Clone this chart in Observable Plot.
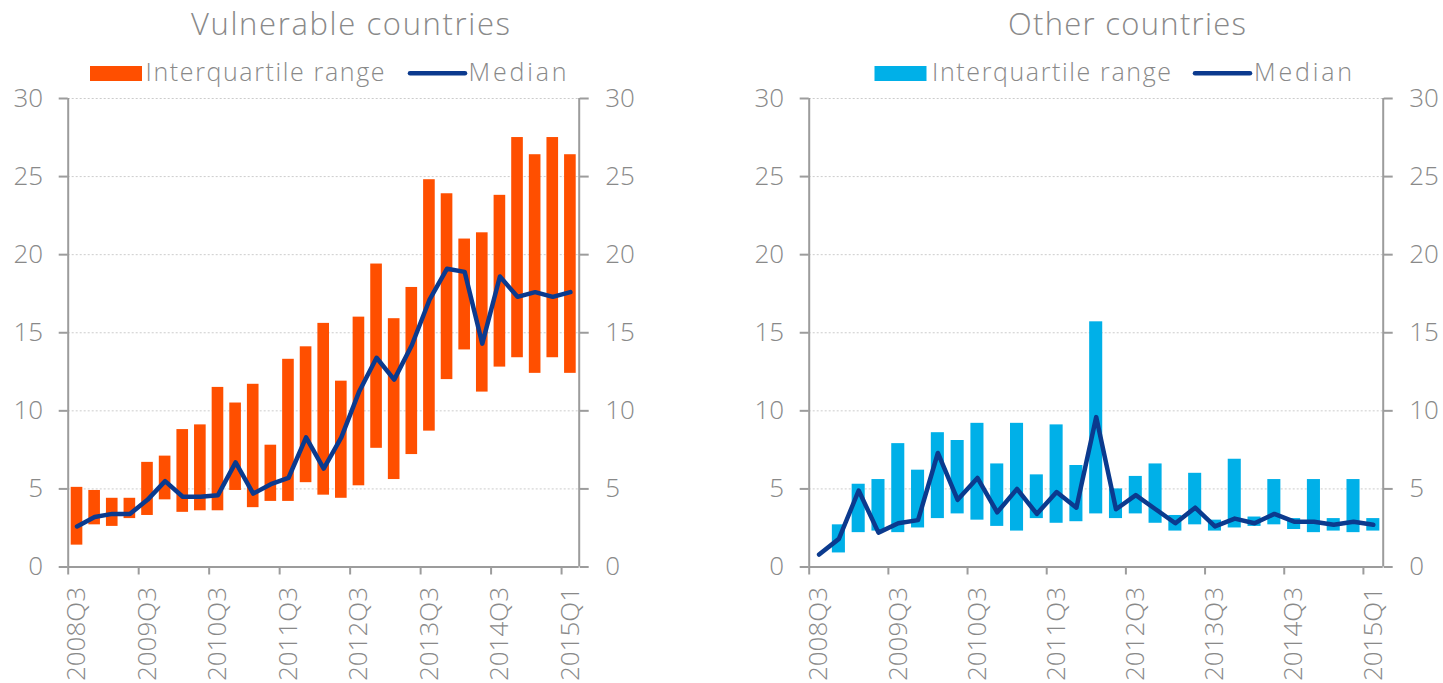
<!DOCTYPE html>
<html>
<head>
<meta charset="utf-8">
<script src="https://cdn.jsdelivr.net/npm/d3@7"></script>
<script src="https://cdn.jsdelivr.net/npm/@observablehq/plot@0.6"></script>
<style>
  html, body { margin: 0; padding: 0; background: #fff; }
  #wrap { position: relative; width: 1443px; height: 683px; overflow: hidden; }
  #wrap svg { position: absolute; }
  svg text { font-weight: 300; }
</style>
</head>
<body>
<div id="wrap"></div>
<script>
// ---- Data ----
const tickIdx = [0, 4, 8, 12, 16, 20, 24, 28];
const tickLabels = ["2008Q3", "2009Q3", "2010Q3", "2011Q3", "2012Q3", "2013Q3", "2014Q3", "2015Q1"];
const yTicks = [0, 5, 10, 15, 20, 25, 30];
const nCats = 29;

const vulnQ1 = [1.4, 2.7, 2.6, 3.1, 3.3, 4.3, 3.5, 3.6, 3.6, 4.9, 3.8, 4.2, 4.2, 5.4, 4.6, 4.4, 5.2, 7.6, 5.6, 7.2, 8.7, 12.0, 13.9, 11.2, 12.8, 13.4, 12.4, 13.4, 12.4];
const vulnQ3 = [5.1, 4.9, 4.4, 4.4, 6.7, 7.1, 8.8, 9.1, 11.5, 10.5, 11.7, 7.8, 13.3, 14.1, 15.6, 11.9, 16.0, 19.4, 15.9, 17.9, 24.8, 23.9, 21.0, 21.4, 23.8, 27.5, 26.4, 27.5, 26.4];
const vulnMed = [2.6, 3.2, 3.4, 3.4, 4.3, 5.5, 4.5, 4.5, 4.6, 6.7, 4.7, 5.3, 5.7, 8.3, 6.3, 8.3, 11.2, 13.4, 12.0, 14.2, 17.1, 19.1, 18.9, 14.3, 18.6, 17.3, 17.6, 17.3, 17.6];

const otherQ1 = [null, 0.9, 2.2, 2.3, 2.2, 2.5, 3.1, 3.4, 3.0, 2.6, 2.3, 3.1, 2.8, 2.9, 3.4, 3.1, 3.4, 2.8, 2.3, 2.7, 2.3, 2.5, 2.6, 2.7, 2.4, 2.2, 2.3, 2.2, 2.3];
const otherQ3 = [null, 2.7, 5.3, 5.6, 7.9, 6.2, 8.6, 8.1, 9.2, 6.6, 9.2, 5.9, 9.1, 6.5, 15.7, 5.0, 5.8, 6.6, 3.3, 6.0, 3.0, 6.9, 3.2, 5.6, 3.1, 5.6, 3.1, 5.6, 3.1];
const otherMed = [0.8, 1.8, 4.9, 2.2, 2.8, 3.0, 7.3, 4.3, 5.7, 3.5, 5.0, 3.4, 4.8, 3.8, 9.6, 3.7, 4.6, 3.7, 2.8, 3.8, 2.6, 3.1, 2.8, 3.4, 2.9, 2.9, 2.7, 2.9, 2.7];

// ---- Styles ----
const FONT = "'Open Sans', Lato, sans-serif";
const TEXT = "#898989";
const AXIS = "#9c9c9c";
const ORANGE = "#FF4F00";
const CYAN = "#00B0E8";
const MEDIAN = "#0B3A8E";

function panel({q1, q3, med, color, width, ml, mr}) {
  const rows = q1.map((d, i) => ({i, q1: d, q3: q3[i], med: med[i]}));
  const inset = ((width - ml - mr) / nCats) * 0.17;
  return Plot.plot({
    width, height: 595,
    marginLeft: ml, marginRight: mr, marginTop: 10, marginBottom: 116.5,
    x: {type: "linear", domain: [0, nCats]},
    y: {domain: [0, 30]},
    style: {fontFamily: FONT, fontSize: "26px", color: TEXT, background: "transparent", overflow: "visible"},
    marks: [
      Plot.gridY(yTicks.filter(t => t > 0), {stroke: "#cccccc", strokeOpacity: 1, strokeDasharray: "2,2"}),
      Plot.rectY(rows.filter(d => d.q1 != null), {
        x1: d => d.i, x2: d => d.i + 1, y1: "q1", y2: "q3",
        fill: color, insetLeft: inset, insetRight: inset
      }),
      Plot.line(rows, {x: d => d.i + 0.5, y: "med", stroke: MEDIAN, strokeWidth: 4.5, strokeLinejoin: "round", strokeLinecap: "round"}),
      Plot.ruleX([0, nCats], {stroke: AXIS, strokeWidth: 2}),
      Plot.ruleY([0], {stroke: AXIS, strokeWidth: 2}),
      Plot.axisY({anchor: "left", ticks: yTicks, tickSize: 9, tickPadding: 16, stroke: AXIS, strokeWidth: 2, fill: TEXT, label: null}),
      Plot.axisY({anchor: "right", ticks: yTicks, tickSize: 9, tickPadding: 17, stroke: AXIS, strokeWidth: 2, fill: TEXT, label: null}),
      Plot.axisX({ticks: tickIdx, tickSize: 8, tickFormat: () => "", stroke: AXIS, strokeWidth: 2, label: null}),
      Plot.axisX({
        ticks: tickIdx.map(i => i + 0.5), tickSize: 0, tickPadding: 20, tickRotate: -90,
        tickFormat: d => tickLabels[tickIdx.indexOf(d - 0.5)], fill: TEXT, label: null
      })
    ]
  });
}

const wrap = document.getElementById("wrap");

const p1 = panel({q1: vulnQ1, q3: vulnQ3, med: vulnMed, color: ORANGE, width: 720, ml: 67.7, mr: 141.3});
p1.style.left = "0px"; p1.style.top = "88px";
wrap.appendChild(p1);

const p2 = panel({q1: otherQ1, q3: otherQ3, med: otherMed, color: CYAN, width: 723, ml: 88.7, mr: 60.3});
p2.style.left = "720px"; p2.style.top = "88px";
wrap.appendChild(p2);

// ---- Titles and legends (overlay) ----
const ov = d3.create("svg").attr("width", 1443).attr("height", 90)
  .style("left", "0px").style("top", "0px")
  .style("font-family", FONT);
wrap.appendChild(ov.node());

const titles = [
  {text: "Vulnerable countries", x: 191, y: 35, len: 319},
  {text: "Other countries", x: 1008, y: 35, len: 238}
];
ov.selectAll("text.title").data(titles).join("text")
  .attr("class", "title")
  .attr("x", d => d.x).attr("y", d => d.y)
  .attr("textLength", d => d.len).attr("lengthAdjust", "spacing")
  .attr("font-size", 31).attr("fill", TEXT)
  .text(d => d.text);

const legends = [
  {x0: 90, color: ORANGE, tx: 145.5, lx: 410, mx: 468.5},
  {x0: 874.5, color: CYAN, tx: 932, lx: 1195, mx: 1254}
];
legends.forEach(l => {
  ov.append("rect").attr("x", l.x0).attr("y", 66).attr("width", 52).attr("height", 15).attr("fill", l.color);
  ov.append("text").attr("x", l.tx).attr("y", 81).attr("font-size", 25).attr("fill", TEXT)
    .attr("textLength", 239).attr("lengthAdjust", "spacing").text("Interquartile range");
  ov.append("line").attr("x1", l.lx).attr("x2", l.lx + 55).attr("y1", 73.3).attr("y2", 73.3)
    .attr("stroke", MEDIAN).attr("stroke-width", 4.5).attr("stroke-linecap", "round");
  ov.append("text").attr("x", l.mx).attr("y", 81).attr("font-size", 25).attr("fill", TEXT)
    .attr("textLength", 98).attr("lengthAdjust", "spacing").text("Median");
});
</script>
</body>
</html>
